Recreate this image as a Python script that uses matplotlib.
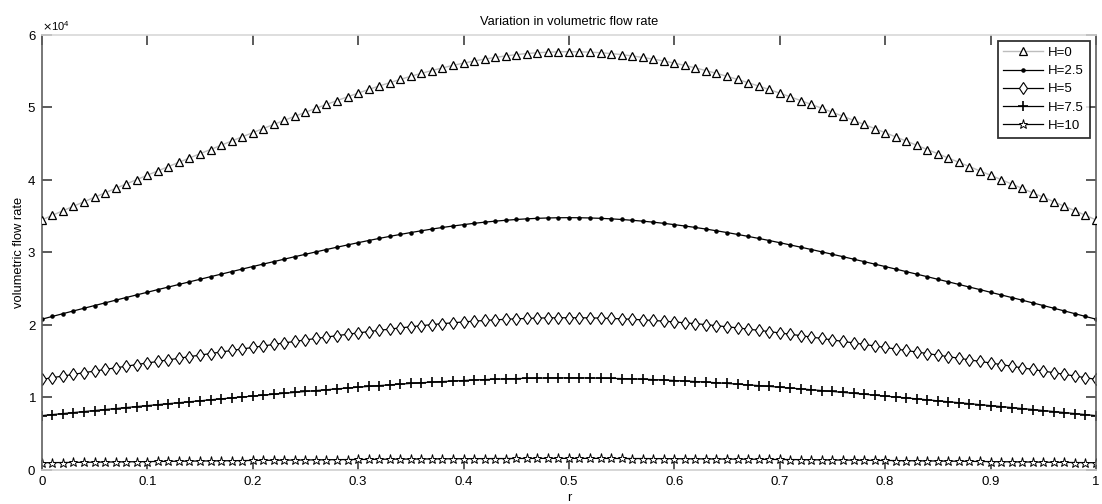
import numpy as np
import matplotlib
matplotlib.use("Agg")
import matplotlib.pyplot as plt
from matplotlib.ticker import ScalarFormatter

r = [round(i * 0.01, 2) for i in range(101)]

labels = ["H=0", "H=2.5", "H=5", "H=7.5", "H=10"]

q_h0 = [34500, 35130, 35760, 36380, 37000, 37620, 38230, 38840, 39450, 40050,
        40660, 41250, 41850, 42440, 43030, 43620, 44200, 44790, 45370, 45950,
        46520, 47100, 47660, 48230, 48790, 49340, 49890, 50420, 50950, 51470,
        51980, 52480, 52960, 53420, 53870, 54300, 54710, 55090, 55460, 55800,
        56120, 56410, 56670, 56900, 57110, 57290, 57440, 57550, 57630, 57680,
        57700,
        57680, 57630, 57550, 57440, 57290, 57110, 56900, 56670, 56410, 56120,
        55800, 55460, 55090, 54710, 54300, 53870, 53420, 52960, 52480, 51980,
        51470, 50950, 50420, 49890, 49340, 48790, 48230, 47660, 47100, 46520,
        45950, 45370, 44790, 44200, 43620, 43030, 42440, 41850, 41250, 40660,
        40050, 39450, 38840, 38230, 37620, 37000, 36380, 35760, 35130, 34500]

q_h25 = [20800, 21180, 21560, 21940, 22310, 22680, 23050, 23420, 23790, 24150,
         24510, 24880, 25230, 25590, 25950, 26300, 26660, 27010, 27360, 27710,
         28060, 28400, 28740, 29080, 29420, 29750, 30080, 30410, 30730, 31040,
         31350, 31650, 31940, 32220, 32490, 32750, 32990, 33230, 33450, 33650,
         33840, 34020, 34180, 34320, 34440, 34550, 34640, 34710, 34760, 34790,
         34800,
         34790, 34760, 34710, 34640, 34550, 34440, 34320, 34180, 34020, 33840,
         33650, 33450, 33230, 32990, 32750, 32490, 32220, 31940, 31650, 31350,
         31040, 30730, 30410, 30080, 29750, 29420, 29080, 28740, 28400, 28060,
         27710, 27360, 27010, 26660, 26300, 25950, 25590, 25230, 24880, 24510,
         24150, 23790, 23420, 23050, 22680, 22310, 21940, 21560, 21180, 20800]

q_h5 = [12500, 12730, 12960, 13190, 13420, 13640, 13870, 14090, 14310, 14540,
        14760, 14970, 15190, 15410, 15630, 15840, 16060, 16270, 16480, 16690,
        16900, 17110, 17320, 17530, 17730, 17940, 18140, 18330, 18530, 18720,
        18900, 19090, 19260, 19430, 19600, 19750, 19900, 20050, 20180, 20300,
        20420, 20530, 20620, 20710, 20780, 20850, 20900, 20950, 20980, 20990,
        21000,
        20990, 20980, 20950, 20900, 20850, 20780, 20710, 20620, 20530, 20420,
        20300, 20180, 20050, 19900, 19750, 19600, 19430, 19260, 19090, 18900,
        18720, 18530, 18330, 18140, 17940, 17730, 17530, 17320, 17110, 16900,
        16690, 16480, 16270, 16060, 15840, 15630, 15410, 15190, 14970, 14760,
        14540, 14310, 14090, 13870, 13640, 13420, 13190, 12960, 12730, 12500]

q_h75 = [7500, 7640, 7780, 7920, 8060, 8200, 8340, 8470, 8610, 8750,
         8880, 9010, 9150, 9280, 9410, 9540, 9680, 9810, 9940, 10070,
         10190, 10320, 10450, 10580, 10700, 10830, 10950, 11070, 11190, 11300,
         11420, 11530, 11640, 11740, 11840, 11940, 12030, 12120, 12200, 12270,
         12340, 12410, 12470, 12520, 12570, 12610, 12640, 12670, 12690, 12700,
         12700,
         12700, 12690, 12670, 12640, 12610, 12570, 12520, 12470, 12410, 12340,
         12270, 12200, 12120, 12030, 11940, 11840, 11740, 11640, 11530, 11420,
         11300, 11190, 11070, 10950, 10830, 10700, 10580, 10450, 10320, 10190,
         10070, 9940, 9810, 9680, 9540, 9410, 9280, 9150, 9010, 8880,
         8750, 8610, 8470, 8340, 8200, 8060, 7920, 7780, 7640, 7500]

q_h10 = [1000, 1020, 1030, 1050, 1060, 1080, 1100, 1110, 1130, 1140,
         1160, 1170, 1190, 1210, 1220, 1240, 1250, 1270, 1280, 1300,
         1310, 1330, 1340, 1360, 1370, 1380, 1400, 1410, 1430, 1440,
         1450, 1460, 1480, 1490, 1500, 1510, 1520, 1530, 1540, 1550,
         1560, 1570, 1570, 1580, 1580, 1590, 1590, 1600, 1600, 1600,
         1600,
         1600, 1600, 1600, 1590, 1590, 1580, 1580, 1570, 1570, 1560,
         1550, 1540, 1530, 1520, 1510, 1500, 1490, 1480, 1460, 1450,
         1440, 1430, 1410, 1400, 1380, 1370, 1360, 1340, 1330, 1310,
         1300, 1280, 1270, 1250, 1240, 1220, 1210, 1190, 1170, 1160,
         1140, 1130, 1110, 1100, 1080, 1060, 1050, 1030, 1020, 1000]

x_ticks = [0, 0.1, 0.2, 0.3, 0.4, 0.5, 0.6, 0.7, 0.8, 0.9, 1]
x_ticklabels = ["0", "0.1", "0.2", "0.3", "0.4", "0.5", "0.6", "0.7", "0.8", "0.9", "1"]
y_ticks = [0, 10000, 20000, 30000, 40000, 50000, 60000]

plt.rcParams['font.family'] = ['Liberation Sans', 'DejaVu Sans']

fig = plt.figure(figsize=(11.02, 5.04), dpi=100)
ax = fig.add_axes([0.038, 0.0675, 0.9565, 0.8631])

ax.plot(r, q_h0, color='#bdbdbd', lw=1.0, marker='^', ms=6, mfc='white',
        mec='black', mew=0.9, label=labels[0], zorder=3)
ax.plot(r, q_h25, color='black', lw=0.9, marker='.', ms=4.5, label=labels[1])
ax.plot(r, q_h5, color='black', lw=0.9, marker='d', ms=6.5, mfc='white',
        mec='black', mew=0.8, label=labels[2])
ax.plot(r, q_h75, color='black', lw=0.9, marker='+', ms=6.5,
        mec='black', mew=1.2, label=labels[3])
ax.plot(r, q_h10, color='black', lw=0.9, marker='*', ms=6.5, mfc='white',
        mec='black', mew=0.7, label=labels[4])

ax.set_xlim(0, 1)
ax.set_ylim(0, 60000)
ax.set_xticks(x_ticks)
ax.set_xticklabels(x_ticklabels)
ax.set_yticks(y_ticks)

fmt = ScalarFormatter(useMathText=True)
fmt.set_powerlimits((0, 0))
ax.yaxis.set_major_formatter(fmt)
ax.yaxis.get_offset_text().set_fontsize(8)

ax.tick_params(direction='in', top=True, right=True, labelsize=9.5,
               length=7, width=1.2, color='#404040', pad=4)
for side in ['left', 'right']:
    ax.spines[side].set_color('#606060')
ax.spines['top'].set_color('#d8d8d8')
ax.spines['bottom'].set_color('#d0d0d0')
for s in ax.spines.values():
    s.set_linewidth(1.2)

ax.set_title("Variation in volumetric flow rate", fontsize=9.3, pad=7)
ax.set_ylabel("volumetric flow rate", fontsize=9.3, labelpad=2)
ax.set_xlabel("r", fontsize=9.3, labelpad=3)

leg = ax.legend(loc='upper right', fontsize=9.5, frameon=True, fancybox=False,
                edgecolor='black', borderaxespad=0.45, handlelength=3.0,
                labelspacing=0.45, borderpad=0.45, handletextpad=0.4)
leg.get_frame().set_linewidth(1.3)

fig.savefig("out.png", dpi=100)
